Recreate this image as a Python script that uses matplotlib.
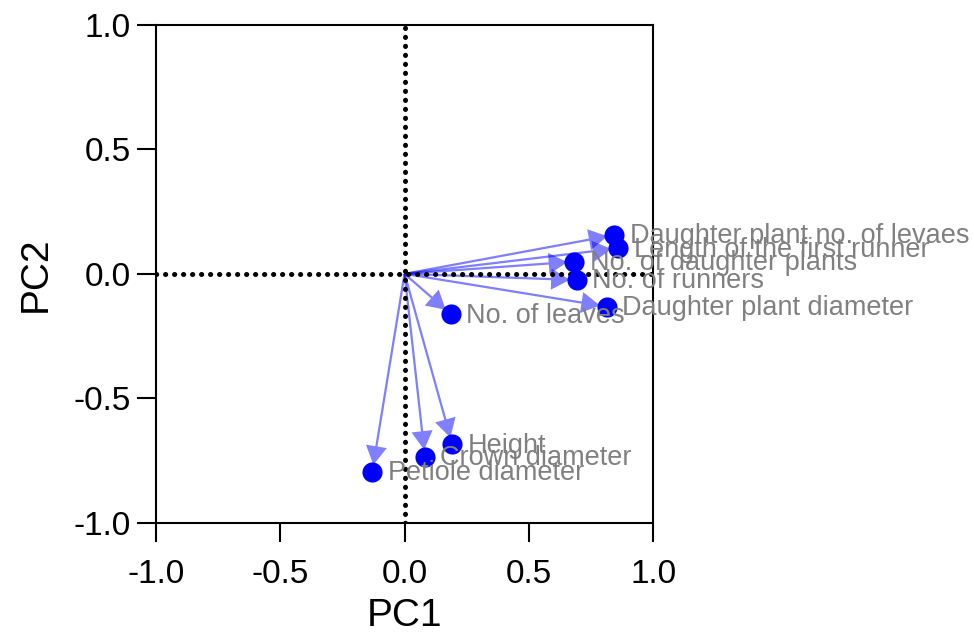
import matplotlib
matplotlib.use("Agg")
import matplotlib.pyplot as plt
import numpy as np

plt.rcParams['font.family'] = ['Liberation Sans', 'DejaVu Sans']

variables = ["Daughter plant no. of levaes", "Length of the first runner",
             "No. of daughter plants", "No. of runners", "Daughter plant diameter",
             "No. of leaves", "Height", "Crown diameter", "Petiole diameter"]
pc1 = [0.844, 0.860, 0.683, 0.693, 0.814, 0.187, 0.192, 0.082, -0.130]
pc2 = [0.156, 0.103, 0.049, -0.025, -0.132, -0.163, -0.685, -0.735, -0.795]
ticks = [-1.0, -0.5, 0.0, 0.5, 1.0]
tick_labels = ["-1.0", "-0.5", "0.0", "0.5", "1.0"]

fig = plt.figure(figsize=(9.74, 6.4), dpi=100)
ax = fig.add_axes([0.1602, 0.1833, 0.5103, 0.7777])

ax.set_xlim(-1, 1)
ax.set_ylim(-1, 1)

# dotted zero lines
dot_style = dict(color='black', lw=3.6, linestyle=(0, (0.05, 1.75)),
                 dash_capstyle='round', zorder=3)
ax.axhline(0, **dot_style)
ax.axvline(0, **dot_style)

# arrows (single polygon each so the transparency is uniform)
gap = 0.028
for x, y in zip(pc1, pc2):
    L = np.hypot(x, y)
    f = (L - gap) / L
    ax.arrow(0, 0, x * f, y * f, width=0.009, head_width=0.085, head_length=0.075,
             length_includes_head=True, color='blue', alpha=0.5, lw=0, zorder=2)

ax.scatter(pc1, pc2, s=210, color='blue', zorder=4, linewidths=0)

for name, x, y in zip(variables, pc1, pc2):
    ax.annotate(name, xy=(x, y), xytext=(11, -1), textcoords='offset points',
                va='center', ha='left', fontsize=19.5, color='#808080', zorder=5)

ax.set_xticks(ticks)
ax.set_xticklabels(tick_labels)
ax.set_yticks(ticks)
ax.set_yticklabels(tick_labels)
ax.tick_params(axis='both', direction='out', length=14, width=1.5,
               labelsize=24, colors='black')
ax.tick_params(axis='x', pad=12)
ax.tick_params(axis='y', pad=4)
for s in ax.spines.values():
    s.set_linewidth(1.5)
    s.set_color('black')

ax.set_xlabel("PC1", fontsize=28, labelpad=6)
ax.set_ylabel("PC2", fontsize=28, labelpad=14)

fig.savefig("out.png", dpi=100)
